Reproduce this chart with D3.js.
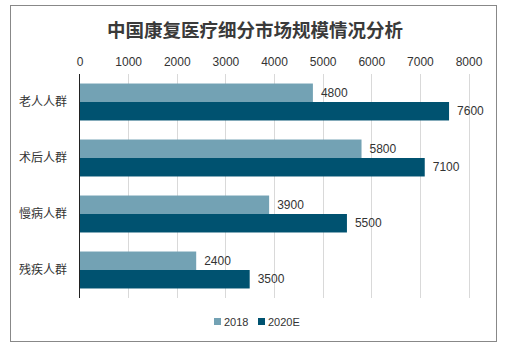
<!DOCTYPE html>
<html><head><meta charset="utf-8">
<script src="https://cdn.jsdelivr.net/npm/d3@7"></script>
<style>
body{margin:0;background:#fff;}
svg{font-family:"Liberation Sans",Arial,"Noto Sans CJK SC",sans-serif;}
</style></head>
<body><svg id="c" width="507" height="350"></svg>
<script>
const title = "中国康复医疗细分市场规模情况分析";
const categories = ["老人人群","术后人群","慢病人群","残疾人群"];
const seriesNames = ["2018","2020E"];
const values2018 = [4800,5800,3900,2400];
const values2020 = [7600,7100,5500,3500];
const ticks = [0,1000,2000,3000,4000,5000,6000,7000,8000];
const colors = ["#73a2b4","#005270"];

const svg = d3.select("#c");
svg.append("rect").attr("x",10.5).attr("y",5.5).attr("width",486).attr("height",336)
  .attr("fill","#fff").attr("stroke","#888").attr("stroke-width",1);

svg.append("text").attr("x",255).attr("y",37).attr("text-anchor","middle")
  .attr("font-family","'Noto Sans CJK SC',sans-serif").attr("font-size",18.5).attr("font-weight","bold")
  .attr("fill","#3a3a3a").text(title);

const x = d3.scaleLinear().domain([0,8000]).range([79.5,468.5]);
const y = d3.scaleBand().domain(categories).range([74,298]).paddingInner(0.34).paddingOuter(0.17);
const ys = d3.scaleBand().domain(seriesNames).range([0,y.bandwidth()]);

// gridlines
svg.append("g").selectAll("line").data(ticks.slice(1)).join("line")
  .attr("x1",d=>Math.round(x(d))+0.5).attr("x2",d=>Math.round(x(d))+0.5)
  .attr("y1",74).attr("y2",298).attr("stroke","#d9d9d9").attr("stroke-width",1);

// top axis labels
const ax = svg.append("g").attr("transform","translate(0,66)")
  .call(d3.axisTop(x).tickValues(ticks).tickFormat(d3.format("d")).tickSize(0).tickPadding(0));
ax.select(".domain").remove();
ax.selectAll("text").attr("font-size",12).attr("fill","#333").attr("font-family","'Liberation Sans',Arial,sans-serif");

const data = categories.map((c,i)=>({c, vals:[values2018[i],values2020[i]]}));
const g = svg.append("g");
data.forEach(d=>{
  d.vals.forEach((v,j)=>{
    const yy = y(d.c)+ys(seriesNames[j]);
    g.append("rect").attr("x",x(0)).attr("y",yy).attr("width",x(v)-x(0)).attr("height",ys.bandwidth())
      .attr("fill",colors[j]);
    g.append("text").attr("x",x(v)+8).attr("y",yy+ys.bandwidth()/2+4)
      .attr("font-size",12).attr("fill","#333").text(v);
  });
});

// y axis line and labels
svg.append("line").attr("x1",79.5).attr("x2",79.5).attr("y1",74).attr("y2",298).attr("stroke","#222").attr("stroke-width",1);
const ay = svg.append("g").attr("transform","translate(67,0)")
  .call(d3.axisLeft(y).tickSize(0).tickPadding(0));
ay.select(".domain").remove();
ay.selectAll("text").attr("font-size",12).attr("fill","#333").attr("font-family","'Noto Sans CJK SC',sans-serif");

// legend
const leg = svg.append("g");
const lx = [214,258];
seriesNames.forEach((s,i)=>{
  leg.append("rect").attr("x",lx[i]).attr("y",318).attr("width",7).attr("height",7).attr("fill",colors[i]);
  leg.append("text").attr("x",lx[i]+10).attr("y",326).attr("font-size",11).attr("fill","#333").text(s);
});
</script></body></html>
